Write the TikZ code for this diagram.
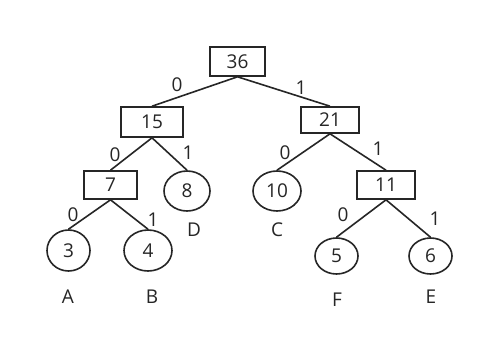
\documentclass[tikz,border=0pt]{standalone}
\usepackage{fontspec}
\setmainfont{Open Sans}
\usetikzlibrary{shapes.geometric}
\begin{document}
\begin{tikzpicture}[x=1pt,y=-1pt,
  every node/.style={font=\fontsize{19}{22}\selectfont, text=black!85},
  boxnode/.style={draw=black!85, line width=1.6pt, rectangle, inner sep=0pt},
  leaf/.style={draw=black!85, line width=1.6pt, ellipse, inner sep=0pt},
  edge/.style={draw=black!85, line width=1.6pt},
  lbl/.style={inner sep=0pt}]
\useasboundingbox[fill=white] (0,0) rectangle (489,346);
\node[boxnode, minimum width=55pt, minimum height=29pt] (n36) at (237.5,61.5) {36};
\node[boxnode, minimum width=62pt, minimum height=30pt] (n15) at (152,122) {15};
\node[boxnode, minimum width=58pt, minimum height=26pt] (n21) at (330,120) {21};
\node[boxnode, minimum width=53pt, minimum height=28pt] (n7) at (110.5,185) {7};
\node[boxnode, minimum width=58pt, minimum height=28pt] (n11) at (386,185) {11};
\node[leaf, minimum width=46pt, minimum height=40pt] (n8) at (187,191) {8};
\node[leaf, minimum width=48pt, minimum height=40pt] (n10) at (277,191) {10};
\node[leaf, minimum width=43pt, minimum height=41pt] (n3) at (68.5,250.5) {3};
\node[leaf, minimum width=48pt, minimum height=41pt] (n4) at (148,250.5) {4};
\node[leaf, minimum width=43pt, minimum height=36pt] (n5) at (336.5,256) {5};
\node[leaf, minimum width=43pt, minimum height=36pt] (n6) at (430.5,256) {6};
\draw[edge] (n36.south) -- (n15.north);
\draw[edge] (n36.south) -- (n21.north);
\draw[edge] (n15.south) -- (n7.north);
\draw[edge] (n15.south) -- (n8.north);
\draw[edge] (n7.south) -- (n3.north);
\draw[edge] (n7.south) -- (n4.north);
\draw[edge] (n21.south) -- (n10.north);
\draw[edge] (n21.south) -- (n11.north);
\draw[edge] (n11.south) -- (n5.north);
\draw[edge] (n11.south) -- (n6.north);
\node[lbl] (e1) at (177,85) {0};
\node[lbl] (e2) at (301,88) {1};
\node[lbl] (e3) at (115,155) {0};
\node[lbl] (e4) at (188,153) {1};
\node[lbl] (e5) at (73,215) {0};
\node[lbl] (e6) at (153,220) {1};
\node[lbl] (e7) at (285,153) {0};
\node[lbl] (e8) at (378,149) {1};
\node[lbl] (e9) at (343,215) {0};
\node[lbl] (e10) at (435,219) {1};
\node[lbl] (lA) at (68,297) {A};
\node[lbl] (lB) at (152,297) {B};
\node[lbl] (lD) at (194,230) {D};
\node[lbl] (lC) at (277,230) {C};
\node[lbl] (lF) at (337,300) {F};
\node[lbl] (lE) at (431,297) {E};
\end{tikzpicture}
\end{document}
